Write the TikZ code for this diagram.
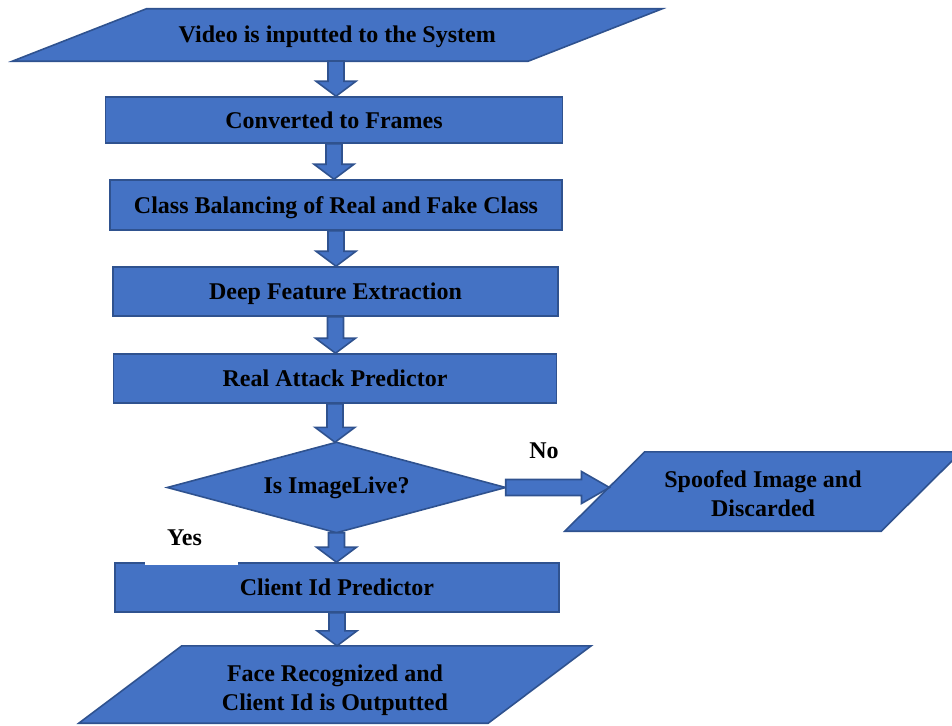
\documentclass[tikz,border=0pt]{standalone}
\usepackage{fontspec}
\setmainfont{Liberation Serif}
\usetikzlibrary{calc,backgrounds}
\definecolor{myblue}{HTML}{4472C4}
\definecolor{myborder}{HTML}{2F528F}
\tikzset{
  fc/.style={fill=myblue, draw=myborder, line width=1.6pt, line join=miter},
  lbl/.style={font=\fontsize{24}{29}\selectfont\bfseries, text=black, inner sep=0pt, align=center},
  one/.style={text height=16pt, text depth=0pt},
  box/.style={fc, lbl, one, rectangle},
  hold/.style={lbl, rectangle},
  varrow/.style={fc, to path={let \p1=(\tikztostart), \p2=(\tikztotarget) in
     (\x1-8pt,\y1) -- (\x1-8pt,\y2+15pt) -- (\x1-20pt,\y2+15pt) -- (\x1,\y2) --
     (\x1+20pt,\y2+15pt) -- (\x1+8pt,\y2+15pt) -- (\x1+8pt,\y1) -- cycle}},
  harrow/.style={fc, to path={let \p1=(\tikztostart), \p2=(\tikztotarget) in
     (\x1,\y1+8pt) -- (\x2-28pt,\y1+8pt) -- (\x2-28pt,\y1+16pt) -- (\x2,\y1) --
     (\x2-28pt,\y1-16pt) -- (\x2-28pt,\y1-8pt) -- (\x1,\y1-8pt) -- cycle}}
}
\begin{document}
\begin{tikzpicture}[x=1pt,y=-1pt]
\useasboundingbox (0,0) rectangle (952,725);

\node[hold, one, minimum width=649.5pt, minimum height=52pt] (p1) at (337.25,35) {Video is inputted to the System};
\node[box, minimum width=457pt, minimum height=46pt] (b2) at (334,120) {Converted to Frames};
\node[box, minimum width=452pt, minimum height=50pt] (b3) at (336,205) {Class Balancing of Real and Fake Class};
\node[box, minimum width=445pt, minimum height=49pt] (b4) at (335.5,291.5) {Deep Feature Extraction};
\node[box, minimum width=443pt, minimum height=49pt] (b5) at (335,378.5) {Real Attack Predictor};
\node[hold, text height=11pt, text depth=0pt, minimum width=338pt, minimum height=90pt] (d) at (336.5,487.5) {Is ImageLive?};
\node[hold, text height=49pt, text depth=0pt, minimum width=396pt, minimum height=79pt] (p2) at (763,491.5) {Spoofed Image and\\Discarded};
\node[box, minimum width=444pt, minimum height=49pt] (b7) at (337,587.5) {Client Id Predictor};
\node[hold, text height=51pt, text depth=0pt, minimum width=512pt, minimum height=77pt] (p3) at (335,684.5) {Face Recognized and\\Client Id is Outputted};

\begin{scope}[on background layer]
  \draw[fc] ([xshift=134pt]p1.north west) -- (p1.north east) -- ([xshift=-134pt]p1.south east) -- (p1.south west) -- cycle;
  \draw[fc] (d.north) -- (d.east) -- (d.south) -- (d.west) -- cycle;
  \draw[fc] ([xshift=80pt]p2.north west) -- (p2.north east) -- ([xshift=-80pt]p2.south east) -- (p2.south west) -- cycle;
  \draw[fc] ([xshift=103pt]p3.north west) -- (p3.north east) -- ([xshift=-103pt]p3.south east) -- (p3.south west) -- cycle;
\end{scope}

% gap in the top border of the client box
\fill[white] (145,561) rectangle (238,564.5);

% labels
\node[lbl] (no) at (544,451) {No};
\node[lbl] (yes) at (184.5,538) {Yes};

% block arrows
\coordinate (p2in) at (609.5,487.5);
\draw[varrow] (336,61) coordinate (p1out) to (b2.north);
\draw[varrow] (b2.south) to (b3.north);
\draw[varrow] (b3.south) to (b4.north);
\draw[varrow] (b4.south) to (b5.north);
\draw[varrow] (b5.south) to (d.north);
\draw[harrow] (d.east) to (p2in);
\draw[varrow] (d.south) to (b7.north);
\draw[varrow] (b7.south) to (p3.north);
\end{tikzpicture}
\end{document}
